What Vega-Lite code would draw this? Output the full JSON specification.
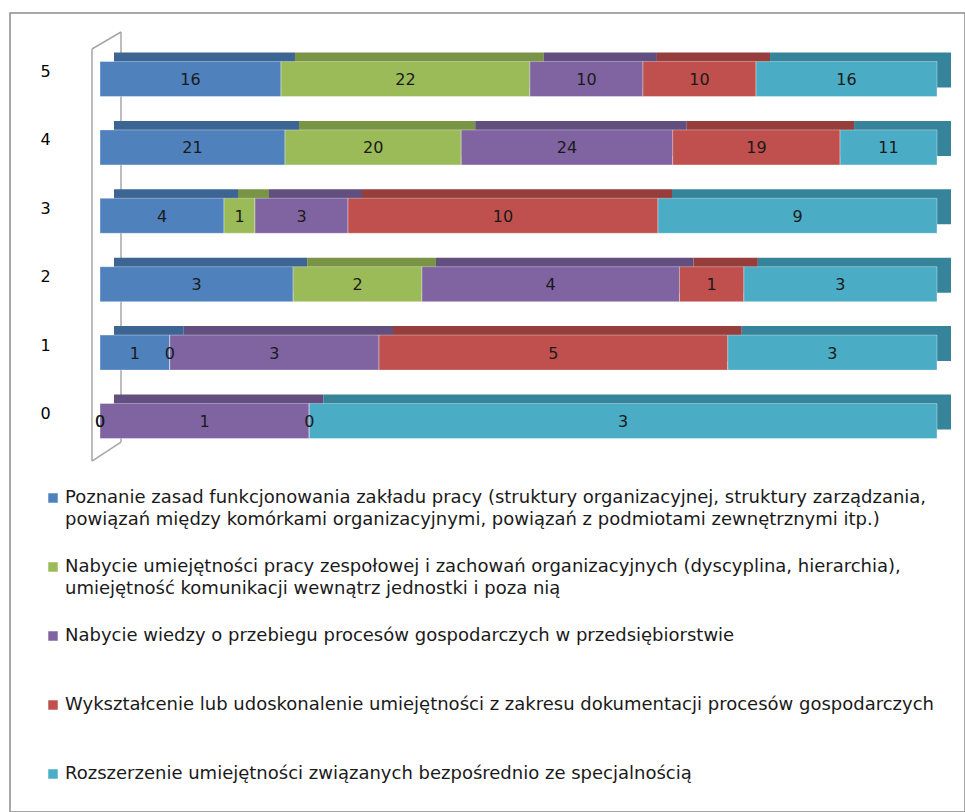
{
  "$schema": "https://vega.github.io/schema/vega-lite/v6.json",
  "width": 955,
  "height": 799,
  "autosize": "none",
  "padding": {"left": 10, "top": 13, "right": 0, "bottom": 0},
  "background": "white",
  "config": {"view": {"stroke": "#8c8c8c", "strokeWidth": 1.5}, "font": "DejaVu Sans", "style": {"guide-label": {"lineHeight": 22}}},
  "data": {"values": [
    {"r": "5", "s": 1, "v": 16}, {"r": "5", "s": 2, "v": 22}, {"r": "5", "s": 3, "v": 10}, {"r": "5", "s": 4, "v": 10}, {"r": "5", "s": 5, "v": 16},
    {"r": "4", "s": 1, "v": 21}, {"r": "4", "s": 2, "v": 20}, {"r": "4", "s": 3, "v": 24}, {"r": "4", "s": 4, "v": 19}, {"r": "4", "s": 5, "v": 11},
    {"r": "3", "s": 1, "v": 4}, {"r": "3", "s": 2, "v": 1}, {"r": "3", "s": 3, "v": 3}, {"r": "3", "s": 4, "v": 10}, {"r": "3", "s": 5, "v": 9},
    {"r": "2", "s": 1, "v": 3}, {"r": "2", "s": 2, "v": 2}, {"r": "2", "s": 3, "v": 4}, {"r": "2", "s": 4, "v": 1}, {"r": "2", "s": 5, "v": 3},
    {"r": "1", "s": 1, "v": 1}, {"r": "1", "s": 2, "v": 0}, {"r": "1", "s": 3, "v": 3}, {"r": "1", "s": 4, "v": 5}, {"r": "1", "s": 5, "v": 3},
    {"r": "0", "s": 1, "v": 0}, {"r": "0", "s": 2, "v": 0}, {"r": "0", "s": 3, "v": 1}, {"r": "0", "s": 4, "v": 0}, {"r": "0", "s": 5, "v": 3}
  ]},
  "layer": [
    {
      "data": {"values": [{}]},
      "mark": {"type": "rule", "color": "#a6a6a6", "strokeWidth": 1.5, "yOffset": -29.5, "y2Offset": 3.5},
      "encoding": {
        "x": {"datum": 0.0251, "type": "quantitative", "scale": {"domain": [-0.10753, 1.03345], "nice": false, "zero": false}, "axis": null},
        "y": {"datum": "5", "type": "nominal", "bandPosition": 0},
        "y2": {"datum": "0", "bandPosition": 1}
      }
    },
    {
      "data": {"values": [{}]},
      "mark": {"type": "rule", "color": "#a6a6a6", "strokeWidth": 1.5, "yOffset": -12.5, "y2Offset": 22.5},
      "encoding": {
        "x": {"datum": -0.0096, "type": "quantitative"},
        "y": {"datum": "5", "type": "nominal", "bandPosition": 0},
        "y2": {"datum": "0", "bandPosition": 1}
      }
    },
    {
      "data": {"values": [{}]},
      "mark": {"type": "rule", "color": "#a6a6a6", "strokeWidth": 1.5, "yOffset": -12.5, "y2Offset": -29.5},
      "encoding": {
        "x": {"datum": -0.0096, "type": "quantitative"},
        "x2": {"datum": 0.0251},
        "y": {"datum": "5", "type": "nominal", "bandPosition": 0},
        "y2": {"datum": "5", "bandPosition": 0}
      }
    },
    {
      "data": {"values": [{}]},
      "mark": {"type": "rule", "color": "#a6a6a6", "strokeWidth": 1.5, "yOffset": 22.5, "y2Offset": 3.5},
      "encoding": {
        "x": {"datum": -0.0096, "type": "quantitative"},
        "x2": {"datum": 0.0251},
        "y": {"datum": "0", "type": "nominal", "bandPosition": 1},
        "y2": {"datum": "0", "bandPosition": 1}
      }
    },
    {
      "transform": [
        {"stack": "v", "groupby": ["r"], "sort": [{"field": "s", "order": "ascending"}], "offset": "normalize", "as": ["x0", "x1"]},
        {"calculate": "(datum.x0 + datum.x1) / 2", "as": "mid"}
      ],
      "resolve": {"scale": {"color": "independent"}, "legend": {"color": "independent"}},
      "layer": [
        {
          "mark": {"type": "bar", "xOffset": 14, "x2Offset": 14, "yOffset": -9, "y2Offset": -9},
          "encoding": {
            "x": {"field": "x0", "type": "quantitative"},
            "x2": {"field": "x1"},
            "y": {"field": "r", "type": "nominal"},
            "color": {"field": "s", "type": "nominal", "legend": null,
              "scale": {"domain": [1, 2, 3, 4, 5], "range": ["#3d6594", "#7a9446", "#634e80", "#963e3b", "#36849a"]}}
          }
        },
        {
          "mark": {"type": "bar", "stroke": "#ffffff", "strokeOpacity": 0.35, "strokeWidth": 1},
          "encoding": {
            "x": {"field": "x0", "type": "quantitative"},
            "x2": {"field": "x1"},
            "y": {"field": "r", "type": "nominal",
              "scale": {"domain": ["5", "4", "3", "2", "1", "0"], "range": [31.8, 442.2], "paddingInner": 0.488, "paddingOuter": 0.244},
              "axis": {"title": null, "orient": "left", "offset": -40, "domain": false, "ticks": false, "labelPadding": 5, "labelAlign": "center",
                "labelFontSize": 16, "labelColor": "#000000", "labelFont": "DejaVu Sans", "labelOffset": -7}},
            "color": {"field": "s", "type": "nominal",
              "scale": {"domain": [1, 2, 3, 4, 5], "range": ["#4f81bd", "#9bbb59", "#8064a2", "#c0504d", "#4bacc6"]},
              "legend": {"orient": "none", "legendX": 34, "legendY": 476, "direction": "vertical", "title": null,
                "symbolType": "square", "symbolSize": 90, "symbolStrokeWidth": 0, "labelFontSize": 18, "labelFont": "DejaVu Sans",
                "labelColor": "#1a1a1a", "labelLimit": 0, "labelOffset": 3, "rowPadding": 29, "padding": 0,
                "labelExpr": "datum.value == 1 ? ['Poznanie zasad funkcjonowania zakładu pracy (struktury organizacyjnej, struktury zarządzania,', 'powiązań między komórkami organizacyjnymi, powiązań z podmiotami zewnętrznymi itp.)'] : datum.value == 2 ? ['Nabycie umiejętności pracy zespołowej  i zachowań organizacyjnych (dyscyplina, hierarchia),', 'umiejętność komunikacji wewnątrz jednostki i poza nią'] : datum.value == 3 ? ['Nabycie wiedzy o przebiegu procesów gospodarczych w przedsiębiorstwie', ''] : datum.value == 4 ? ['Wykształcenie lub udoskonalenie umiejętności z zakresu dokumentacji procesów gospodarczych', ''] : ['Rozszerzenie umiejętności związanych bezpośrednio ze specjalnością', '']"}}
          }
        },
        {
          "mark": {"type": "text", "fontSize": 16, "color": "#1a1a1a", "baseline": "middle", "dy": 1, "font": "DejaVu Sans"},
          "encoding": {
            "x": {"field": "mid", "type": "quantitative"},
            "y": {"field": "r", "type": "nominal"},
            "text": {"field": "v", "type": "quantitative"}
          }
        }
      ]
    }
  ]
}
